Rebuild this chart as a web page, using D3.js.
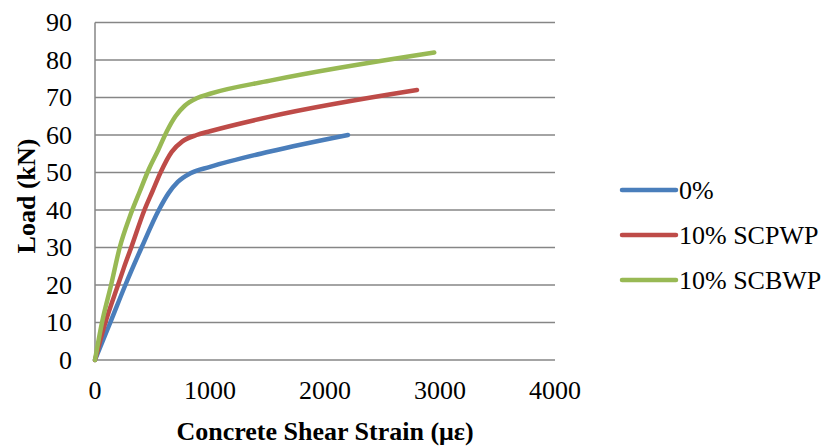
<!DOCTYPE html>
<html><head><meta charset="utf-8">
<script src="https://cdn.jsdelivr.net/npm/d3@7"></script>
<style>body{margin:0;background:#fff} svg text{font-family:"Liberation Serif","Times New Roman",Times,serif;}</style>
</head><body>
<svg id="c" width="828" height="448"></svg>
<script>
const seriesNames = ["0%", "10% SCPWP", "10% SCBWP"];
const seriesColors = ["#4a7ebb", "#be4b48", "#98b954"];
const strain0 = [0, 133, 264, 405, 555, 640, 720, 830, 1000, 1522, 2200];
const load0   = [0, 10, 20, 30, 40, 44.5, 47.5, 49.8, 51.5, 55.6, 60];
const strain1 = [0, 90, 200, 250, 315, 430, 500, 570, 667, 760, 884, 1000, 1522, 2800];
const load1   = [0, 10, 20, 24.5, 30, 40, 45, 50, 55.5, 58.3, 60, 61, 64.9, 72];
const strain2 = [0, 61, 140, 215, 300, 390, 470, 550, 625, 700, 780, 884, 1000, 1522, 2950];
const load2   = [0, 10, 20, 30, 38, 45, 51, 56, 61, 65, 67.8, 69.8, 71, 74.5, 82];
const xTicks = [0, 1000, 2000, 3000, 4000];
const yTicks = [0, 10, 20, 30, 40, 50, 60, 70, 80, 90];

const strains = [strain0, strain1, strain2];
const loads = [load0, load1, load2];

const svg = d3.select("#c");
const x = d3.scaleLinear().domain([0, 4000]).range([95, 555]);
const y = d3.scaleLinear().domain([0, 90]).range([360, 22.5]);
const fs = 26;

svg.append("g").selectAll("line").data(yTicks).join("line")
  .attr("x1", x(0)).attr("x2", x(4000))
  .attr("y1", d => y(d)).attr("y2", d => y(d))
  .attr("stroke", "#868686").attr("stroke-width", 1.5);
svg.append("line").attr("x1", x(0)).attr("x2", x(0)).attr("y1", y(90)).attr("y2", y(0))
  .attr("stroke", "#868686").attr("stroke-width", 1.5);

svg.append("g").selectAll("text").data(yTicks).join("text")
  .attr("x", 72).attr("y", d => y(d)).attr("dy", "0.33em")
  .attr("text-anchor", "end").attr("font-size", fs)
  .text(d => d);
svg.append("g").selectAll("text").data(xTicks).join("text")
  .attr("x", d => x(d)).attr("y", 399)
  .attr("text-anchor", "middle").attr("font-size", fs)
  .text(d => d);

svg.append("text").attr("x", 325).attr("y", 440).attr("text-anchor", "middle")
  .attr("font-size", fs).attr("font-weight", "bold")
  .text("Concrete Shear Strain (με)");
svg.append("text").attr("transform", "translate(35,196) rotate(-90)").attr("text-anchor", "middle")
  .attr("font-size", fs).attr("font-weight", "bold")
  .text("Load (kN)");

const line = d3.line().x(d => x(d[0])).y(d => y(d[1])).curve(d3.curveMonotoneX);
seriesNames.forEach((name, i) => {
  const pts = strains[i].map((s, j) => [s, loads[i][j]]);
  svg.append("path").datum(pts).attr("d", line)
    .attr("fill", "none").attr("stroke", seriesColors[i]).attr("stroke-width", 4.5)
    .attr("stroke-linecap", "round").attr("stroke-linejoin", "round");
});

const lg = svg.append("g");
seriesNames.forEach((name, i) => {
  const ly = 190 + i * 45;
  lg.append("line").attr("x1", 622).attr("x2", 676).attr("y1", ly).attr("y2", ly)
    .attr("stroke", seriesColors[i]).attr("stroke-width", 4.5).attr("stroke-linecap", "round");
  lg.append("text").attr("x", 679).attr("y", ly).attr("dy", "0.33em")
    .attr("font-size", fs).text(name);
});
</script>
</body></html>
